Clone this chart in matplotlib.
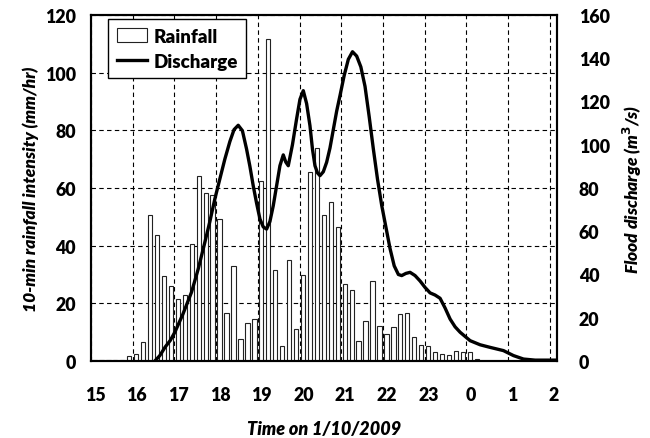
import numpy as np
import matplotlib
matplotlib.use("Agg")
import matplotlib.pyplot as plt
import matplotlib.transforms as mtransforms
from matplotlib.patches import Patch
from matplotlib.lines import Line2D

plt.rcParams["font.family"] = ["Lato", "DejaVu Sans"]
plt.rcParams["font.weight"] = "heavy"

# 10-min rainfall intensity (mm/hr), one bar per 10 minutes from 15:00
rain_start = 15.0
rain = [0.3, 0.3, 0.3, 0.3, 0.3, 1.8, 2.5, 6.5, 50.7, 43.7,
        29.6, 26.1, 21.5, 23.0, 40.7, 64.3, 58.2, 57.7, 49.3, 16.6,
        33.0, 7.6, 13.1, 14.6, 62.5, 111.7, 31.7, 5.1, 34.9, 11.1,
        29.8, 65.4, 73.8, 50.6, 55.3, 46.4, 26.6, 24.5, 6.8, 13.8,
        27.6, 12.0, 9.3, 11.9, 16.2, 16.6, 8.4, 5.7, 5.3, 3.1,
        2.3, 2.2, 3.4, 3.0, 3.0, 0.6]

# flood discharge (m3/s), time in hours (24 = midnight)
q_time = [16.53, 16.65, 16.78, 16.9, 17.01, 17.2, 17.41, 17.57, 17.73, 17.85,
          17.97, 18.1, 18.21, 18.33, 18.43, 18.53, 18.63, 18.73, 18.81, 18.89,
          18.97, 19.05, 19.13, 19.21, 19.29, 19.37, 19.45, 19.53, 19.61, 19.67,
          19.73, 19.83, 19.93, 20.01, 20.09, 20.17, 20.25, 20.31, 20.37, 20.43,
          20.49, 20.57, 20.65, 20.73, 20.81, 20.89, 20.97, 21.07, 21.17, 21.27,
          21.37, 21.47, 21.57, 21.67, 21.77, 21.87, 21.97, 22.07, 22.17, 22.27,
          22.37, 22.45, 22.55, 22.65, 22.77, 22.89, 23.01, 23.13, 23.25,
          23.37, 23.49, 23.61, 23.73, 23.85, 24.09, 24.33, 24.57, 24.89, 25.13,
          25.37, 25.65, 26.17]
discharge = [0.0, 2.5, 6.5, 9.5, 13.3, 21.5, 31.8, 42.5, 54.9, 64.5,
             75.0, 85.0, 93.4, 101.5, 107.0, 109.0, 106.5, 98.0, 90.0, 81.0,
             73.0, 65.7, 62.0, 61.0, 64.5, 71.8, 81.0, 90.3, 95.3, 92.0,
             90.3, 100.0, 112.0, 121.0, 125.0, 119.0, 108.8, 98.0, 90.3, 87.0,
             85.7, 87.5, 91.9, 98.5, 107.0, 115.5, 122.7, 132.0, 139.5, 143.0,
             141.0, 136.0, 127.0, 113.0, 98.0, 84.0, 72.0, 62.0, 52.0, 44.0,
             40.0, 39.5, 40.5, 41.0, 39.5, 37.0, 34.0, 31.5, 30.5,
             29.0, 24.5, 19.4, 15.8, 13.3, 9.4, 7.5, 6.3, 4.8, 2.5,
             0.9, 0.4, 0.4]

hour_ticks = [15, 16, 17, 18, 19, 20, 21, 22, 23, 24, 25, 26]
hour_labels = ["15", "16", "17", "18", "19", "20", "21", "22", "23", "0", "1", "2"]

step = 1 / 6
bar_t = rain_start + (np.arange(len(rain)) + 0.5) * step

fig = plt.figure(figsize=(6.5, 4.39), dpi=100)
ax = fig.add_axes([0.14, 0.1754, 0.7165, 0.7882])
ax2 = ax.twinx()

ax.bar(bar_t, rain, width=step * 0.62, color="white", edgecolor="#222222",
       linewidth=0.8, zorder=2)
ax2.plot(q_time, discharge, color="black", lw=2.4, zorder=3)

ax.set_xlim(15, 26 + 1 / 6)
ax.set_ylim(0, 120)
ax2.set_ylim(0, 160)
ax.set_xticks(hour_ticks)
ax.set_xticklabels(hour_labels)
ax.set_yticks(np.arange(0, 121, 20))
ax2.set_yticks(np.arange(0, 161, 20))

ax.grid(True, color="black", linestyle=(0, (4, 3)), linewidth=0.8, zorder=1)
ax.set_axisbelow(True)

for a in (ax, ax2):
    a.tick_params(length=0, labelsize=12.8)
    for s in a.spines.values():
        s.set_linewidth(1.5)
        s.set_color("black")
ax.tick_params(axis="y", pad=11)
ax2.tick_params(axis="y", pad=16)
ax.tick_params(axis="x", pad=18)

# x labels sit a little right of the gridlines
shift = mtransforms.ScaledTranslation(4 / 100, 0, fig.dpi_scale_trans)
for lab in ax.get_xticklabels():
    lab.set_transform(lab.get_transform() + shift)

ax.set_xlabel("Time on 1/10/2009", fontsize=13, fontstyle="italic",
              fontweight="heavy", labelpad=12)
ax.set_ylabel("10-min rainfall intensity (mm/hr)", fontsize=12.5,
              fontstyle="italic", fontweight="heavy", labelpad=4)
ax2.set_ylabel("Flood discharge (m$^3$/s)", fontsize=12.5, fontstyle="italic",
               fontweight="heavy", labelpad=8)

handles = [Patch(facecolor="white", edgecolor="#222222", linewidth=0.8),
           Line2D([0], [0], color="black", lw=2.4)]
leg = ax2.legend(handles, ["Rainfall", "Discharge"], loc="upper left",
                 bbox_to_anchor=(0.037, 0.988), borderaxespad=0, fancybox=False,
                 edgecolor="black", framealpha=1, fontsize=13.5,
                 handlelength=1.6, handleheight=0.8, handletextpad=0.35,
                 borderpad=0.45, labelspacing=0.45)
leg.get_frame().set_linewidth(1.0)

fig.savefig("out.png", dpi=100)
